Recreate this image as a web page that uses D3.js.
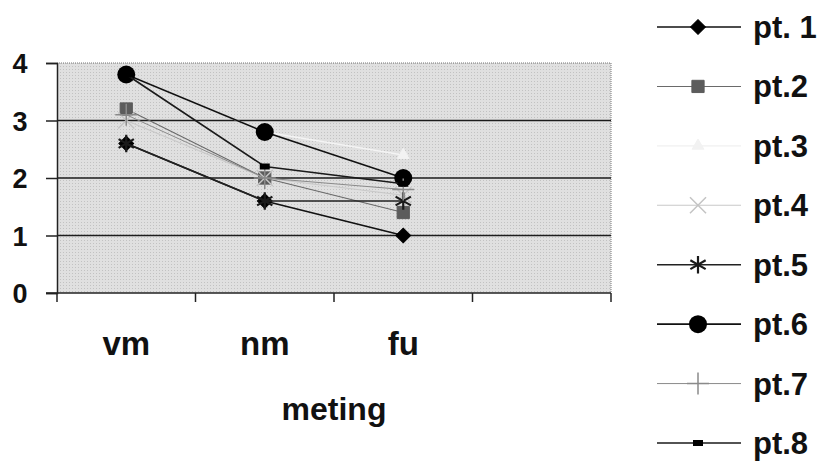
<!DOCTYPE html>
<html>
<head>
<meta charset="utf-8">
<script src="https://cdn.jsdelivr.net/npm/d3@7"></script>
<style>
  body { margin: 0; background: #fff; }
  text { font-family: "Liberation Sans", Arial, sans-serif; font-weight: bold; fill: #111; }
</style>
</head>
<body>
<div id="chart"></div>
<script>
// measurements (x axis) and the series values per patient
const categories = ["vm", "nm", "fu"];
const seriesNames = ["pt. 1", "pt.2", "pt.3", "pt.4", "pt.5", "pt.6", "pt.7", "pt.8"];
const pt1 = [2.6, 1.6, 1.0];
const pt2 = [3.2, 2.0, 1.4];
const pt3 = [3.8, 2.8, 2.4];
const pt4 = [3.0, 2.0, 1.7];
const pt5 = [2.6, 1.6, 1.6];
const pt6 = [3.8, 2.8, 2.0];
const pt7 = [3.1, 2.0, 1.8];
const pt8 = [3.8, 2.2, 1.9];
const yTicks = [0, 1, 2, 3, 4];
const xTitle = "meting";

const width = 820;
const height = 468;
const plot = { left: 57, right: 611, top: 63, bottom: 293 };

// one style per series: marker kind, colours
const styles = [
    { marker: "diamond", fill: "#000", stroke: "#000", line: "#111", lw: 1.6 },
    { marker: "square", fill: "#5c5c5c", stroke: "#5c5c5c", line: "#6a6a6a", lw: 1.1 },
    { marker: "triangle", fill: "#f2f2f2", stroke: "#f2f2f2", line: "#f4f4f4", lw: 1.6 },
    { marker: "x", fill: "none", stroke: "#c4c4c4", line: "#c8c8c8", lw: 1.1 },
    { marker: "asterisk", fill: "none", stroke: "#1a1a1a", line: "#222", lw: 1.5 },
    { marker: "circle", fill: "#000", stroke: "#000", line: "#111", lw: 1.6 },
    { marker: "plus", fill: "none", stroke: "#8a8a8a", line: "#8a8a8a", lw: 1 },
    { marker: "dash", fill: "#000", stroke: "#000", line: "#1a1a1a", lw: 1.6 }
];
const allSeries = [pt1, pt2, pt3, pt4, pt5, pt6, pt7, pt8];

const svg = d3.select("#chart")
    .append("svg")
    .attr("width", width)
    .attr("height", height);

const defs = svg.append("defs");
const pat = defs.append("pattern")
    .attr("id", "stipple")
    .attr("width", 3)
    .attr("height", 3)
    .attr("patternUnits", "userSpaceOnUse");
pat.append("rect").attr("width", 3).attr("height", 3).attr("fill", "#e0e0e0");
pat.append("rect").attr("width", 1).attr("height", 1).attr("fill", "#c2c2c2");

// the x axis has one extra empty slot on the right, like the original
const x = d3.scaleBand()
    .domain(categories.concat([""]))
    .range([plot.left, plot.right]);

const y = d3.scaleLinear()
    .domain([0, 4])
    .range([plot.bottom, plot.top]);

// plot area
svg.append("rect")
    .attr("x", plot.left)
    .attr("y", plot.top)
    .attr("width", plot.right - plot.left)
    .attr("height", plot.bottom - plot.top)
    .attr("fill", "url(#stipple)");

// top and right border, dotted
svg.append("path")
    .attr("d", `M${plot.left},${y(4)}H${plot.right}V${plot.bottom}`)
    .attr("fill", "none")
    .attr("stroke", "#777")
    .attr("stroke-dasharray", "1,1");

// gridlines
svg.selectAll(".grid")
    .data(yTicks.filter(t => t > 0 && t < 4))
    .join("line")
    .attr("x1", plot.left)
    .attr("x2", plot.right)
    .attr("y1", d => y(d))
    .attr("y2", d => y(d))
    .attr("stroke", "#1c1c1c")
    .attr("stroke-width", 1.5);

// y axis
const yAxis = svg.append("g")
    .attr("transform", `translate(${plot.left},0)`)
    .call(d3.axisLeft(y).tickValues(yTicks).tickFormat(d3.format("d")).tickSize(11).tickPadding(6));
yAxis.select(".domain").attr("stroke", "#222").attr("stroke-width", 1.5);
yAxis.selectAll(".tick line").attr("stroke", "#222").attr("stroke-width", 1.5);
yAxis.selectAll(".tick text")
    .attr("font-size", 27)
    .attr("font-family", "Liberation Sans, Arial, sans-serif")
    .attr("font-weight", "bold")
    .attr("fill", "#111")
    .attr("text-anchor", "middle")
    .attr("x", 20 - plot.left)
    .attr("dy", "0.36em");

// x axis: ticks sit at band boundaries
const bounds = x.domain().map(d => x(d)).concat([plot.right]);
svg.append("line")
    .attr("x1", plot.left - 11)
    .attr("x2", plot.right)
    .attr("y1", plot.bottom)
    .attr("y2", plot.bottom)
    .attr("stroke", "#222")
    .attr("stroke-width", 1.5);
svg.selectAll(".xtick")
    .data(bounds)
    .join("line")
    .attr("x1", d => d)
    .attr("x2", d => d)
    .attr("y1", plot.bottom)
    .attr("y2", plot.bottom + 9)
    .attr("stroke", "#222")
    .attr("stroke-width", 1.5);
svg.selectAll(".xlabel")
    .data(categories)
    .join("text")
    .attr("x", d => x(d) + x.bandwidth() / 2)
    .attr("y", 355)
    .attr("text-anchor", "middle")
    .attr("font-size", 33)
    .text(d => d);

svg.append("text")
    .attr("x", (plot.left + plot.right) / 2)
    .attr("y", 420)
    .attr("text-anchor", "middle")
    .attr("font-size", 32)
    .text(xTitle);

function drawMarker(g, st) {
    const sym = (type, size) => g.append("path")
        .attr("d", d3.symbol().type(type).size(size)())
        .attr("fill", st.fill)
        .attr("stroke", st.stroke);
    if (st.marker === "diamond") sym(d3.symbolSquare, 110).attr("transform", "rotate(45)");
    else if (st.marker === "square") sym(d3.symbolSquare, 150).attr("stroke-width", 1);
    else if (st.marker === "triangle") sym(d3.symbolTriangle, 60);
    else if (st.marker === "x") sym(d3.symbolX, 170).attr("stroke-width", 1.5);
    else if (st.marker === "asterisk") sym(d3.symbolAsterisk, 220).attr("stroke-width", 2.2);
    else if (st.marker === "circle") g.append("circle").attr("r", 9).attr("fill", st.fill);
    else if (st.marker === "plus") sym(d3.symbolPlus, 160).attr("stroke-width", 1.5);
    else if (st.marker === "dash") g.append("rect")
        .attr("x", -5).attr("y", -3).attr("width", 10).attr("height", 6).attr("fill", st.fill);
}

const line = d3.line()
    .x((d, i) => x(categories[i]) + x.bandwidth() / 2)
    .y(d => y(d));

allSeries.forEach((vals, si) => {
    const st = styles[si];
    svg.append("path")
        .datum(vals)
        .attr("d", line)
        .attr("fill", "none")
        .attr("stroke", st.line)
        .attr("stroke-width", st.lw);
    vals.forEach((v, i) => {
        const g = svg.append("g")
            .attr("transform", `translate(${x(categories[i]) + x.bandwidth() / 2},${y(v)})`);
        drawMarker(g, st);
    });
});

// legend
const legendY = d3.scalePoint()
    .domain(seriesNames)
    .range([27, 443]);

seriesNames.forEach((name, si) => {
    const st = styles[si];
    const cy = legendY(name);
    svg.append("line")
        .attr("x1", 657)
        .attr("x2", 741)
        .attr("y1", cy)
        .attr("y2", cy)
        .attr("stroke", st.line)
        .attr("stroke-width", st.lw);
    drawMarker(svg.append("g").attr("transform", `translate(698,${cy})`), st);
    svg.append("text")
        .attr("x", 753)
        .attr("y", cy + 11)
        .attr("font-size", 31)
        .text(name);
});
</script>
</body>
</html>
